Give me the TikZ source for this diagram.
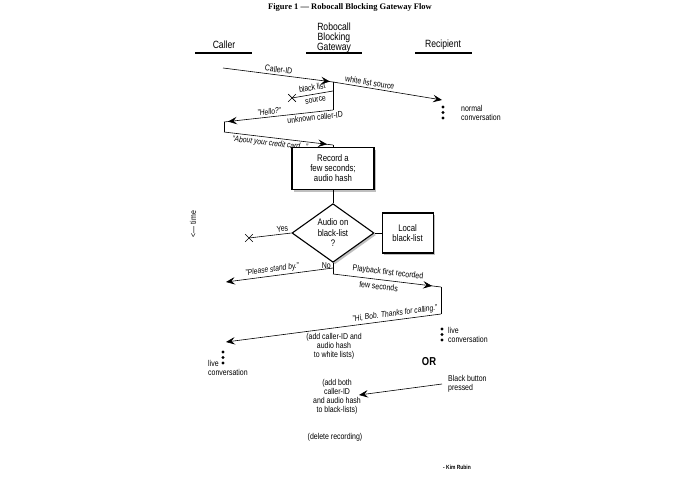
\documentclass[tikz,border=0pt]{standalone}
\usepackage{fontspec}
\setmainfont{Liberation Sans}[FakeStretch=0.82]
\newfontfamily\titlefont{Liberation Serif}
\usetikzlibrary{arrows.meta, positioning, shapes.geometric, shapes.misc, shadows, decorations.markings}
\tikzset{
    >={Stealth[length=9pt, width=7.5pt, inset=3.5pt]}, % swept arrow heads
    msg/.style={line width=0.6pt}, % the message lines
    tipat/.style={postaction={decorate}, decoration={markings, mark=at position #1 with {\arrow{>}}}}, % head a bit before the corner
    stepbox/.style={draw, line width=1.1pt, fill=white, align=center, font=\fontsize{9.5}{10}\selectfont,
        drop shadow={shadow xshift=2pt, shadow yshift=-2pt, opacity=0.5}}, % boxes and the test
    lbl/.style={font=\fontsize{8.5}{9}\selectfont, inner sep=2pt}, % small labels
    speech/.style={lbl, font=\fontsize{8.2}{9}\selectfont\itshape}, % what is said on the line
    xmark/.style={cross out, draw, line width=0.7pt, minimum size=7pt, inner sep=0pt}, % dropped call
    head/.style={font=\fontsize{10.5}{10}\selectfont, align=center}, % column titles
}

\begin{document}
\begin{tikzpicture}[x=1pt, y=-1pt]
    \useasboundingbox (0,0) rectangle (695,494);

    \node[font=\titlefont\bfseries\fontsize{8.5}{9}\selectfont] (title) at (350,7) {Figure 1 — Robocall Blocking Gateway Flow};

    % columns
    \node[head] (caller) at (224,45) {Caller};
    \node[head] (gate) at (334,38) {Robocall\\Blocking\\Gateway};
    \node[head] (recip) at (443,45) {Recipient};
    \draw[line width=1.3pt] (195,53) -- (252,53);
    \draw[line width=1.3pt] (306,53) -- (362,53);
    \draw[line width=1.3pt] (415,53) -- (472,53);

    \node[lbl, rotate=90] (time) at (193,224) {<--- time};

    % call comes in
    \coordinate (c1) at (223,68);
    \coordinate (g1) at (333,82);
    \coordinate (r1) at (442,100);
    \coordinate (g2) at (333,91);
    \node[xmark] (x1) at (292,98) {};
    \coordinate (g3) at (333,110);
    \coordinate (c2) at (224,122);
    \coordinate (c3) at (224,132);
    \coordinate (g4) at (333,145);

    \draw[msg, tipat=-3pt] (c1) -- node[lbl, sloped, above] {Caller-ID} (g1);
    \draw[msg, ->] (g1) -- node[lbl, sloped, above, pos=0.33] {white list source} (r1);
    \draw[msg] (g1) -- (g3);
    \draw[msg] (g2) -- node[lbl, sloped, above=1.5pt, pos=0.48] {black list} node[lbl, sloped, below=1.5pt, pos=0.45] {source} (x1.center);
    \draw[msg, tipat=-4pt] (g3) -- node[speech, sloped, above, pos=0.58] {"Hello?"}
                                    node[lbl, sloped, below, pos=0.17] {unknown caller-ID} (c2);
    \draw[msg] (c2) -- (c3);
    \draw[msg, tipat=-6pt] (c3) -- node[speech, sloped, below, pos=0.43] {"About your credit card..."} (g4);

    \foreach \y in {107,112.5,118} \fill (443,\y) circle (1.6pt);
    \node[lbl, anchor=west, align=left] (norm) at (459,112.5) {normal\\conversation};

    % gateway checks the audio
    \node[diamond, draw, line width=1.1pt, fill=white, minimum width=82pt, minimum height=54pt, inner sep=0pt,
          align=center, font=\fontsize{9.5}{10.5}\selectfont,
          drop shadow={shadow xshift=2pt, shadow yshift=-2pt, opacity=0.5}] (dia) at (333,233) {Audio on\\black-list\\?};
    \node[stepbox, above=13pt of dia, minimum width=82pt, minimum height=42pt] (rec) {Record a\\few seconds;\\audio hash};
    \node[stepbox, right=7pt of dia, minimum width=51pt, minimum height=40pt] (loc) {Local\\black-list};

    \draw[msg] (g4) -- (rec);
    \draw[msg] (rec) -- (dia);
    \draw[msg] (dia) -- (loc);

    \node[xmark] (x2) at (249,238) {};
    \draw[msg] (dia.west) -- node[lbl, sloped, above, pos=0.2] {Yes} (x2.center);

    \coordinate (g5) at (333,268);
    \coordinate (g6) at (333,274);
    \coordinate (c4) at (226,282);
    \coordinate (r2) at (441,287);
    \coordinate (r3) at (441,314);
    \coordinate (c5) at (226,342);

    \draw[msg] (dia.south) -- node[lbl, left, pos=0.25] {No} (g6);
    \draw[msg, ->] (g5) -- node[speech, sloped, above, pos=0.56] {"Please stand by."} (c4);
    \draw[msg, tipat=-9pt] (g6) -- node[lbl, sloped, above=1.5pt, pos=0.5] {Playback first recorded}
                                    node[lbl, sloped, below=1.5pt, pos=0.43] {few seconds} (r2);
    \draw[msg] (r2) -- (r3);
    \draw[msg, ->] (r3) -- node[speech, sloped, above, pos=0.21] {"Hi, Bob. Thanks for calling."} (c5);

    % outcome
    \foreach \y in {329,334.5,340} \fill (442,\y) circle (1.6pt);
    \node[lbl, anchor=west, align=left] (live1) at (446,335) {live\\conversation};
    \foreach \y in {352,357.5,363} \fill (223,\y) circle (1.6pt);
    \node[lbl, anchor=west, align=left] (live2) at (206,367.5) {live\\conversation};

    \node[lbl, align=center] (addw) at (334,346.5) {(add caller-ID and\\audio hash\\to white lists)};
    \node[font=\fontsize{11.5}{12}\selectfont\bfseries] (or) at (429,362) {OR};

    \node[lbl, anchor=west, align=left] (btn) at (446,383.5) {Black button\\pressed};
    \node[lbl, align=center] (addb) at (337,396.5) {(add both\\caller-ID\\and audio hash\\to black-lists)};
    \coordinate (r4) at (442,384);
    \coordinate (m1) at (359,395);
    \draw[msg, ->] (r4) -- (m1);

    \node[lbl] (del) at (335,437) {(delete recording)};
    \node[font=\fontsize{6}{7}\selectfont\bfseries] (kim) at (457,467) {- Kim Rubin};
\end{tikzpicture}
\end{document}
